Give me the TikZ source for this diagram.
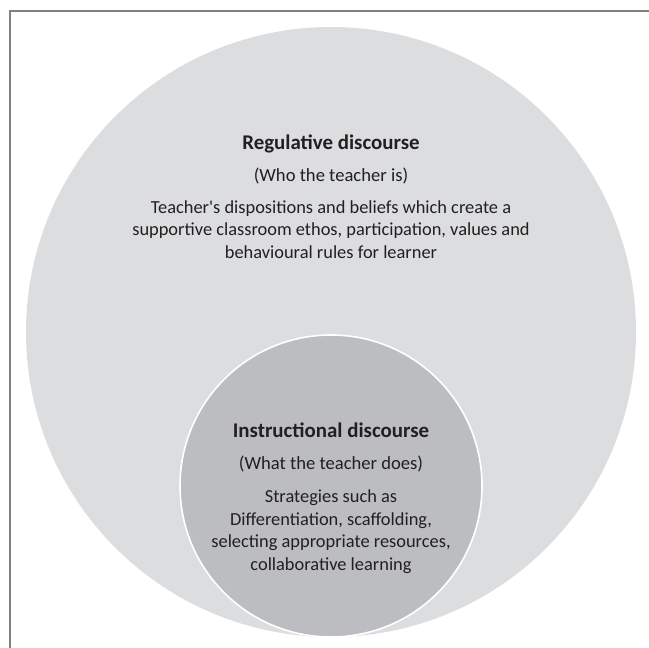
\documentclass[tikz,border=0pt]{standalone}
\usepackage{fontspec}
\setmainfont{Carlito}
\usepackage{xcolor}
\usepackage{tikz}
\usetikzlibrary{positioning}

\definecolor{ringgray}{HTML}{DCDDDF}
\definecolor{coregray}{HTML}{BCBDC0}
\definecolor{framegray}{HTML}{808080}
\definecolor{textgray}{HTML}{231F20}

\begin{document}
\begin{tikzpicture}[
    x=0.5pt, y=-0.5pt,
    frame_style/.style={framegray, line width=1pt},
    outer_ball/.style={fill=ringgray, draw=none},
    inner_ball/.style={fill=coregray, draw=white, line width=0.8pt},
    lbl/.style={text=textgray, font=\fontsize{9.2}{11.25}\selectfont, align=center, inner sep=0pt, anchor=base},
    sub_lbl/.style={lbl, font=\fontsize{9.3}{11.25}\selectfont},
    title_lbl/.style={lbl, font=\fontsize{10.45}{12}\selectfont\bfseries}
  ]

  \useasboundingbox (0,0) rectangle (649,648);

  % 1. Ramen (bara övre och vänstra kanten syns)
  \draw[frame_style] (9.5,648) -- (9.5,10.5) -- (649,10.5);

  % 2. Yttre cirkeln: regulativ diskurs
  \coordinate (O) at (331,332);
  \fill[outer_ball] (O) circle (152.5pt);

  % 3. Inre cirkeln: instruktionell diskurs
  \coordinate (I) at (331,486);
  \filldraw[inner_ball] (I) circle (75.5pt);

  % 4. Texter i den yttre cirkeln (base = sista radens baslinje)
  \node[title_lbl] (reg_title) at (331,149.5) {Regulative discourse};
  \node[sub_lbl] (reg_who) at (331,181.7) {(Who the teacher is)};
  \node[lbl] (reg_body) at (331,258.3)
    {Teacher\textquotesingle s dispositions and beliefs which create a\\
     supportive classroom ethos, participation, values and\\
     behavioural rules for learner};

  % 5. Texter i den inre cirkeln
  \node[title_lbl] (ins_title) at (331,437.7) {Instructional discourse};
  \node[sub_lbl] (ins_what) at (331,469) {(What the teacher does)};
  \node[lbl] (ins_body) at (331,570)
    {Strategies such as\\
     Differentiation, scaffolding,\\
     selecting appropriate resources,\\
     collaborative learning};

\end{tikzpicture}
\end{document}
